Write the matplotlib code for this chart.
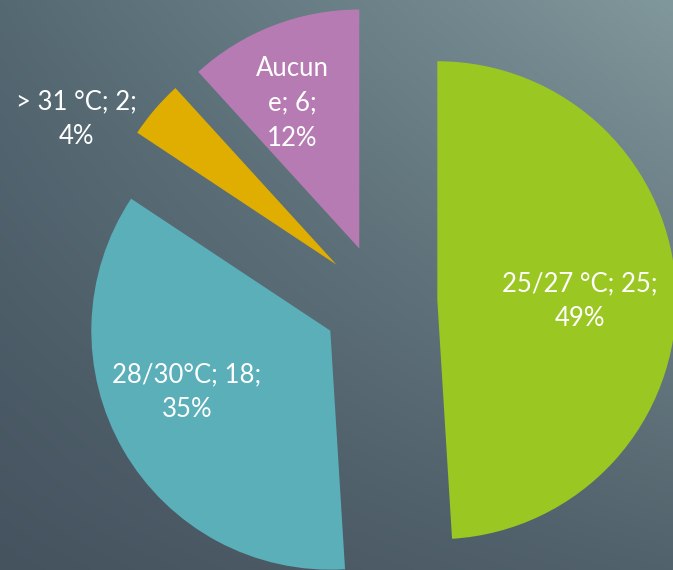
import numpy as np
import matplotlib
matplotlib.use("Agg")
import matplotlib.pyplot as plt

# Data
categories = ["25/27 °C", "28/30°C", "> 31 °C", "Aucune"]
values = [25, 18, 2, 6]
label_texts = ["25/27 °C; 25;\n49%", "28/30°C; 18;\n35%", "> 31 °C; 2;\n4%", "Aucun\ne; 6;\n12%"]
colors = ["#9bc723", "#5aafb9", "#dfae00", "#b67bb2"]

W, H = 673, 570
R_PX = 239.0
CX, CY = 380.0, 302.0  # pie centre in pixels (from top-left)

fig = plt.figure(figsize=(W / 100, H / 100), dpi=100)

# background gradient
bg = fig.add_axes([0, 0, 1, 1], zorder=0)
bg.axis("off")
ny, nx = 200, 240
xx, yy = np.meshgrid(np.linspace(0, 1, nx), np.linspace(0, 1, ny))  # yy=0 bottom
c_bl = np.array([0x45, 0x53, 0x5f]) / 255
c_br = np.array([0x52, 0x62, 0x6c]) / 255
c_tl = np.array([0x55, 0x69, 0x73]) / 255
c_tr = np.array([0x80, 0x97, 0x9b]) / 255
img = ((1 - xx)[..., None] * (1 - yy)[..., None] * c_bl + xx[..., None] * (1 - yy)[..., None] * c_br
       + (1 - xx)[..., None] * yy[..., None] * c_tl + xx[..., None] * yy[..., None] * c_tr)
bg.imshow(img, origin="lower", extent=[0, 1, 0, 1], aspect="auto")
bg.set_xlim(0, 1)
bg.set_ylim(0, 1)

ax = fig.add_axes([0, 0, 1, 1], zorder=1)
ax.patch.set_alpha(0)
ax.axis("off")

explode = [0.24] * len(values)
wedges, _ = ax.pie(values, colors=colors, startangle=90, counterclock=False,
                   explode=explode, radius=1.0, wedgeprops=dict(linewidth=0))

ax.set_aspect("auto")
ax.set_xlim(-CX / R_PX, (W - CX) / R_PX)
ax.set_ylim(-(H - CY) / R_PX, CY / R_PX)

# label positions (pixel coords from top-left)
label_pos_px = [(580, 301), (187, 392), (76, 119), (292, 103)]
font = dict(family=["Lato", "DejaVu Sans"], fontweight="normal", fontsize=18.5, color="white")
for txt, (px, py) in zip(label_texts, label_pos_px):
    ax.text((px - CX) / R_PX, (CY - py) / R_PX, txt, ha="center", va="center",
            linespacing=1.5, **font)

fig.savefig("out.png", dpi=100)
